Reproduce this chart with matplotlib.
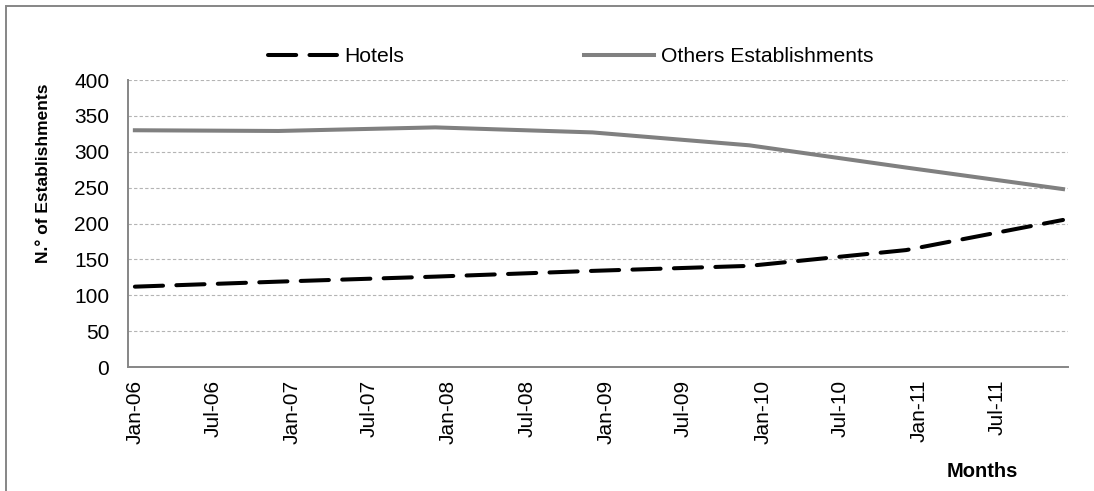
import matplotlib
matplotlib.use("Agg")
import matplotlib.pyplot as plt
import matplotlib.dates as mdates
from matplotlib.patches import Rectangle
import pandas as pd

# yearly readings (first point Jan-06, then each December)
dates = ["2006-01-01", "2006-12-01", "2007-12-01", "2008-12-01",
	"2009-12-01", "2010-12-01", "2011-12-01"]
hotels = [112, 119, 126, 134, 141, 163, 205]
others = [330, 329, 334, 327, 309, 278, 248]

tick_dates = pd.date_range("2006-01-01", "2011-07-01", freq="6MS")
y_ticks = [0, 50, 100, 150, 200, 250, 300, 350, 400]


def main():
	plt.rcParams["font.family"] = ["Liberation Sans", "DejaVu Sans"]
	x = pd.to_datetime(dates)

	fig = plt.figure(figsize=(10.94, 4.91), dpi=100)
	ax = fig.add_axes([0.117, 0.2525, 0.859, 0.5845])

	ax.plot(x, hotels, color="black", lw=2.9, dashes=(7, 3.3),
		dash_capstyle="round", label="Hotels")
	ax.plot(x, others, color="#808080", lw=2.9, label="Others Establishments")

	ax.set_ylim(0, 400)
	ax.set_yticks(y_ticks)
	ax.set_xlim(pd.Timestamp("2005-12-16"), pd.Timestamp("2011-12-12"))
	ax.set_xticks(tick_dates)
	ax.xaxis.set_major_formatter(mdates.DateFormatter("%b-%y"))
	ax.tick_params(axis="x", length=0, pad=9, labelsize=15, rotation=90)
	ax.tick_params(axis="y", length=0, pad=13.5, labelsize=15)

	ax.grid(axis="y", color="#b4b4b4", lw=0.8, linestyle=(0, (3, 2)))
	ax.set_axisbelow(True)
	for s in ["top", "right"]:
		ax.spines[s].set_visible(False)
	for s in ["left", "bottom"]:
		ax.spines[s].set_color("#868686")
		ax.spines[s].set_linewidth(1.4)

	fig.legend(loc="center", bbox_to_anchor=(0.5215, 0.884), ncol=2,
		frameon=False, handlelength=3.3, handletextpad=0.35, columnspacing=8.5,
		fontsize=15.2)

	fig.text(0.040, 0.648, "N.° of Establishments", rotation=90,
		ha="center", va="center", fontsize=12.5, fontweight="bold")
	fig.text(0.898, 0.039, "Months", ha="center", va="center",
		fontsize=14.5, fontweight="bold")

	fig.patches.append(Rectangle((6 / 1094, -0.1), 1.2, 1.1 - 6 / 491,
		transform=fig.transFigure, fill=False, edgecolor="#868686", lw=1.4))

	fig.savefig("out.png", dpi=100)


if __name__ == "__main__":
	main()
